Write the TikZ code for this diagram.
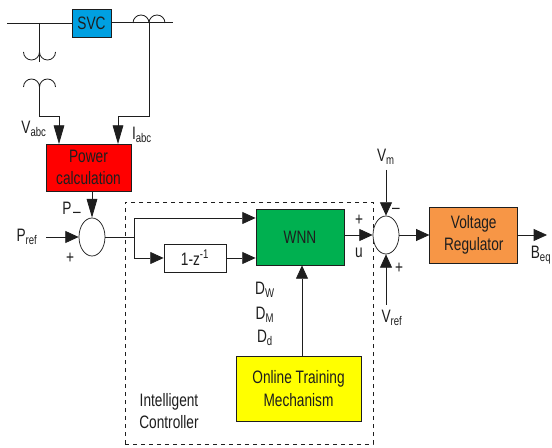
\documentclass[tikz,border=0pt]{standalone}
\usepackage{fontspec}
\setmainfont[FakeStretch=0.76]{Liberation Sans}
\usetikzlibrary{shapes.geometric,arrows.meta,positioning,backgrounds}
\definecolor{svccol}{RGB}{0,160,225}
\definecolor{powercol}{RGB}{255,0,0}
\definecolor{wnncol}{RGB}{0,176,80}
\definecolor{regcol}{RGB}{247,150,70}
\definecolor{traincol}{RGB}{255,255,0}
\definecolor{inkcol}{RGB}{30,30,30}

\begin{document}
\begin{tikzpicture}[
  x=0.75pt,y=-0.75pt,
  every node/.style={text=inkcol,font=\fontsize{13.5}{17}\selectfont},
  box/.style={draw=inkcol,line width=0.6pt,align=center,inner sep=0pt},
  sumnode/.style={draw=inkcol,ellipse,fill=white,line width=0.55pt,inner sep=0pt,
    minimum width=19.5pt,minimum height=28.5pt},
  wire/.style={draw=inkcol,line width=0.6pt},
  arr/.style={wire,-{Triangle[length=10pt,width=9pt]}},
  arrtall/.style={wire,-{Triangle[length=14pt,width=8pt]}},
]
  \useasboundingbox (0,0) rectangle (552,448);

  \node[draw=inkcol,dashed,line width=0.6pt,minimum width=186pt,minimum height=181.5pt,
    inner sep=0pt] (ctrl) at (249,323) {};

  \node[box,fill=svccol,minimum width=29.25pt,minimum height=21pt] (svc) at (91.5,23) {SVC};
  \node[box,fill=powercol,minimum width=63.75pt,minimum height=35.25pt] (power) at (88.5,167.5) {Power\\calculation};
  \node[sumnode] (sumP) at (92,237) {};
  \node[box,fill=wnncol,minimum width=66pt,minimum height=42pt] (wnn) at (300,237) {WNN};
  \node[box,fill=white,minimum width=46.5pt,minimum height=21pt] (delay) at (195,258) {1-z\textsuperscript{-1}};
  \node[sumnode] (sumV) at (386,235) {};
  \node[box,fill=regcol,minimum width=66pt,minimum height=42pt,right=22.5pt of sumV] (reg) {Voltage\\Regulator};
  \node[box,fill=traincol,minimum width=93.75pt,minimum height=48.75pt] (train) at (298.5,388.5) {Online Training\\Mechanism};

  % free ends
  \coordinate (busL) at (7,23);
  \coordinate (busR) at (173,22);
  \coordinate (tapV) at (39.5,23);
  \coordinate (coilV) at (39.5,62);
  \coordinate (coilVb) at (39.5,84);
  \coordinate (bendV) at (39.5,116);
  \coordinate (inV) at (59,144);
  \coordinate (tapI) at (149,22);
  \coordinate (bendI) at (118,116);
  \coordinate (inI) at (118,144);
  \coordinate (inP) at (46,237);
  \coordinate (jn) at (134.5,237);
  \coordinate (jup) at (134.5,218);
  \coordinate (jdn) at (134.5,258);
  \coordinate (inVm) at (386,170);
  \coordinate (inVref) at (386,305);
  \coordinate (outB) at (547,235);
  \coordinate (upT) at (302,356);

  \draw[wire] (busL) -- (svc.west |- busL);
  \draw[wire] (svc.east |- busR) -- (busR);

  % instrument transformers
  \foreach \cx in {23.5,39.5} \draw[wire] (\cx,52) arc[start angle=180,end angle=0,radius=8];
  \foreach \cx in {23.5,39.5} \draw[wire] (\cx,87) arc[start angle=180,end angle=360,radius=8];
  \foreach \cx in {133,149} \draw[wire] (\cx,23) arc[start angle=180,end angle=360,radius=8];

  \draw[wire] (tapV) -- (coilV);
  \draw[arrtall] (coilVb) -- (bendV) -| (inV);
  \draw[arrtall] (tapI) |- (bendI) -- (inI);

  \draw[arrtall] (power.south -| sumP) -- (sumP.north);
  \draw[arr] (inP) -- (sumP.west);
  \draw[wire] (sumP.east) -- (jn);
  \draw[arr] (jn) -- (jup) -- (jup -| wnn.west);
  \draw[arr] (jn) -- (jdn) -- (delay.west);
  \draw[arr] (delay.east) -- (delay.east -| wnn.west);
  \draw[arr] (wnn.east |- sumV) -- (sumV.west);
  \draw[arr] (sumV.east) -- (reg.west);
  \draw[arr] (reg.east) -- (outB);
  \draw[arr] (inVm) -- (sumV.north);
  \draw[arr] (inVref) -- (sumV.south);
  \draw[arr] (upT) -- (upT |- wnn.south);

  \node (lVabc) at (34,129) {V\textsubscript{abc}};
  \node (lIabc) at (142,135) {I\textsubscript{abc}};
  \node (lP) at (67,208) {P};
  \node (lPm) at (77,215) {--};
  \node (lPref) at (27,237) {P\textsubscript{ref}};
  \node (lPp) at (70,258) {+};
  \node (lUp) at (359,220) {+};
  \node (lU) at (359,253) {u};
  \node (lVm) at (386,157) {V\textsubscript{m}};
  \node (lVm2) at (396,211) {--};
  \node (lVp) at (399,268) {+};
  \node (lVref) at (392,318) {V\textsubscript{ref}};
  \node[anchor=east,inner sep=0pt] (lBeq) at (551.5,255) {B\textsubscript{eq}};
  \node (lDw) at (265,290) {D\textsubscript{W}};
  \node (lDm) at (265,315) {D\textsubscript{M}};
  \node (lDd) at (265,338) {D\textsubscript{d}};
  \node[align=center] (lctrl) at (169,411) {Intelligent\\Controller};
\end{tikzpicture}
\end{document}
